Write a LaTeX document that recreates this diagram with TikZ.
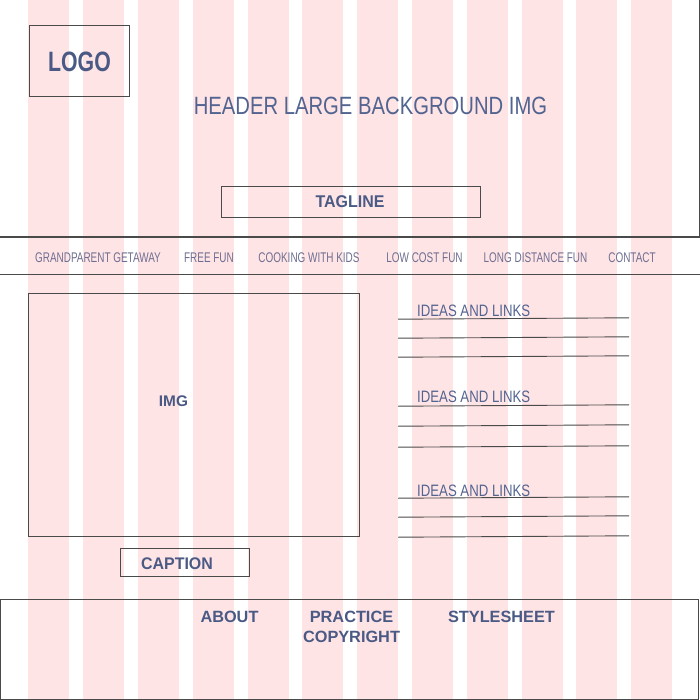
\documentclass[tikz,border=0pt]{standalone}
\usepackage{fontspec}
\setmainfont{Liberation Sans}
\usepackage{graphicx}
\definecolor{stripec}{HTML}{FFE4E6}
\definecolor{linec}{HTML}{4A4A4A}
\definecolor{txtc}{HTML}{4A5A84}
\definecolor{hdrc}{HTML}{526490}
\definecolor{navc}{HTML}{6E6E90}
\newcommand{\sqz}[2]{\scalebox{#1}[1]{#2}}
\begin{document}
\begin{tikzpicture}[x=1pt,y=-1pt,
  box/.style={draw=linec, line width=0.9pt, inner sep=0pt, outer sep=0pt},
  bt/.style={text=txtc, anchor=base, inner sep=0pt, font=\bfseries\fontsize{#1}{#1}\selectfont},
  rt/.style={text=hdrc, anchor=base, inner sep=0pt, font=\fontsize{#1}{#1}\selectfont},
  nav/.style={text=navc, anchor=base, inner sep=0pt, font=\fontsize{14}{14}\selectfont},
  rule/.style={draw=linec, line width=0.9pt}]
\useasboundingbox (0,0) rectangle (700,700);
\fill[white] (0,0) rectangle (700,700);
% grid stripes
\foreach \k in {0,...,11} \fill[stripec] ({28.3+54.8*\k},0) rectangle ++(41,700);

% header frame
\coordinate (htr) at (699,0);
\coordinate (hbr) at (699,237);
\coordinate (hbl) at (0,237);
\draw[rule] (htr) -- (hbr) -- (hbl);
% nav bar lines
\coordinate (nl) at (0,274);
\coordinate (nr) at (700,274);
\coordinate (tr) at (700,237);
\draw[rule, line width=1.4pt] (hbl) -- (tr);
\draw[rule] (nl) -- (nr);

% logo
\node[box, minimum width=100pt, minimum height=71pt] (logobox) at (79,60.5) {};
\node[bt=28] (logo) at (79.5,72) {\sqz{0.76}{LOGO}};
% header text
\node[rt=25] (hdr) at (370.5,115) {\sqz{0.81}{HEADER LARGE BACKGROUND IMG}};
% tagline
\node[box, minimum width=259pt, minimum height=31pt] (tagbox) at (350.5,201.5) {};
\node[bt=17] (tag) at (350,208) {\sqz{0.94}{TAGLINE}};

% nav items
\node[nav] (n1) at (98,262) {\sqz{0.71}{GRANDPARENT GETAWAY}};
\node[nav] (n2) at (209,262) {\sqz{0.71}{FREE FUN}};
\node[nav] (n3) at (309,262) {\sqz{0.71}{COOKING WITH KIDS}};
\node[nav] (n4) at (424.5,262) {\sqz{0.71}{LOW COST FUN}};
\node[nav] (n5) at (535.5,262) {\sqz{0.71}{LONG DISTANCE FUN}};
\node[nav] (n6) at (632,262) {\sqz{0.71}{CONTACT}};

% main image
\node[box, minimum width=331pt, minimum height=243pt] (imgbox) at (193.5,414.5) {};
\node[bt=15.4] (img) at (173.5,406.7) {IMG};
% caption
\node[box, minimum width=129pt, minimum height=28pt] (capbox) at (184.5,562) {};
\node[bt=16.8] (cap) at (177,569) {\sqz{0.95}{CAPTION}};

% ideas and links
\node[rt=16.5, anchor=base west] (i1) at (417,316) {\sqz{0.80}{IDEAS AND LINKS}};
\node[rt=16.5, anchor=base west] (i2) at (417,402) {\sqz{0.80}{IDEAS AND LINKS}};
\node[rt=16.5, anchor=base west] (i3) at (417,496) {\sqz{0.80}{IDEAS AND LINKS}};
\foreach \y in {318.5,337.5,356.5, 405.5,425.5,446.5, 497.5,516.5,536.5}{
  \draw[rule] (398,\y+0.7) -- (629,\y-0.7);
}

% footer
\node[box, minimum width=698pt, minimum height=100pt] (foot) at (349.5,649) {};
\node[bt=16.3] (about) at (229.5,622) {ABOUT};
\node[bt=16.3] (prac) at (351.5,622) {PRACTICE};
\node[bt=16.3] (copy) at (351.5,642) {COPYRIGHT};
\node[bt=16.3] (style) at (501.5,622) {STYLESHEET};
\end{tikzpicture}
\end{document}
